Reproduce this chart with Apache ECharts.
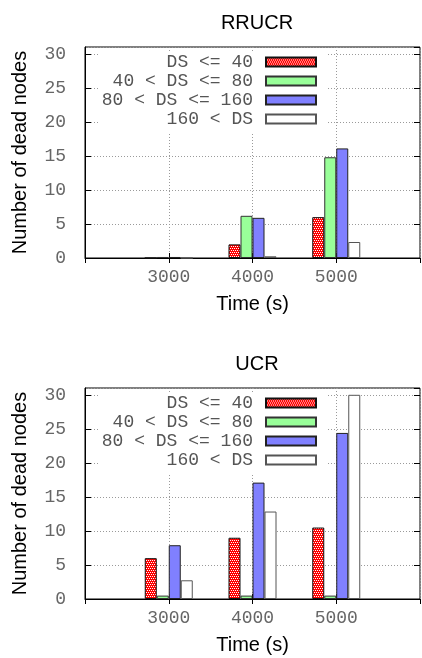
<!DOCTYPE html>
<html>
<head>
<meta charset="utf-8">
<script src="https://cdn.jsdelivr.net/npm/echarts@6/dist/echarts.min.js"></script>
<style>
html,body{margin:0;padding:0;background:#fff;}
#chart{width:422px;height:658px;}
</style>
</head>
<body>
<div id="chart"></div>
<script>
// ---- data ----
const titles = ['RRUCR', 'UCR'];
const seriesNames = ['DS <= 40', '40 < DS <= 80', '80 < DS <= 160', '160 < DS'];
const times = [3000, 4000, 5000];
const rrucrDS40 = [0, 2, 6];
const rrucrDS80 = [0.15, 6.2, 14.8];
const rrucrDS160 = [0.15, 5.9, 16.1];
const rrucrDSgt160 = [0, 0.25, 2.35];
const ucrDS40 = [6, 9, 10.5];
const ucrDS80 = [0.5, 0.5, 0.5];
const ucrDS160 = [7.9, 17.1, 24.4];
const ucrDSgt160 = [2.75, 12.85, 30];
const xAxisName = 'Time (s)';
const yAxisName = 'Number of dead nodes';

// ---- styles ----
const pc = document.createElement('canvas');
pc.width = 4; pc.height = 4;
const pctx = pc.getContext('2d');
pctx.fillStyle = '#ff0000'; pctx.fillRect(0, 0, 4, 4);
pctx.fillStyle = '#ffffff';
pctx.fillRect(0, 0, 1, 1); pctx.fillRect(2, 0, 1, 1);
pctx.fillRect(1, 2, 1, 1); pctx.fillRect(3, 2, 1, 1);

const barStyles = [
  {color: {image: pc, repeat: 'repeat'}, borderColor: '#111', borderWidth: 1},
  {color: '#99ff99', borderColor: '#333', borderWidth: 1},
  {color: '#8080ff', borderColor: '#222', borderWidth: 1},
  {color: '#ffffff', borderColor: '#555', borderWidth: 1}
];
const mono = 'Liberation Mono';
const sans = 'Liberation Sans';

const grids = [
  {left: 85, right: 2, top: 47, height: 211, show: true, borderColor: '#000', borderWidth: 1},
  {left: 85, right: 2, top: 388, height: 211, show: true, borderColor: '#000', borderWidth: 1}
];

const xAxes = [], yAxes = [], series = [], legends = [], titleOpts = [];
const datasets = [
  [rrucrDS40, rrucrDS80, rrucrDS160, rrucrDSgt160],
  [ucrDS40, ucrDS80, ucrDS160, ucrDSgt160]
];
const splitStyle = {show: true, lineStyle: {color: '#9a9a9a', type: [1, 2], width: 1}};
for (let g = 0; g < 2; g++) {
  xAxes.push({
    type: 'value', gridIndex: g, min: 2000, max: 6000, interval: 1000, position: 'bottom',
    axisLine: {show: true, lineStyle: {color: '#000'}},
    axisTick: {show: true, inside: true, length: 5, lineStyle: {color: '#000'}},
    axisLabel: {show: true, showMinLabel: false, showMaxLabel: false, margin: 10,
      formatter: v => String(v),
      fontFamily: mono, fontSize: 18, color: '#666'},
    splitLine: splitStyle,
    name: xAxisName, nameLocation: 'middle', nameGap: 36,
    nameTextStyle: {fontFamily: sans, fontSize: 20, color: '#000'}
  });
  xAxes.push({
    type: 'value', gridIndex: g, min: 2000, max: 6000, interval: 1000, position: 'top',
    axisLine: {show: false},
    axisTick: {show: true, inside: true, length: 5, lineStyle: {color: '#000'}},
    axisLabel: {show: false}, splitLine: {show: false}
  });
  yAxes.push({
    type: 'value', gridIndex: g, min: 0, max: 31, interval: 5, position: 'left',
    axisLine: {show: true, lineStyle: {color: '#000'}},
    axisTick: {show: true, inside: true, length: 6, lineStyle: {color: '#000'}},
    axisLabel: {show: true, showMaxLabel: false, margin: 19,
      fontFamily: mono, fontSize: 18, color: '#666'},
    splitLine: splitStyle,
    name: yAxisName, nameLocation: 'middle', nameGap: 55,
    nameTextStyle: {fontFamily: sans, fontSize: 20, color: '#000'}
  });
  yAxes.push({
    type: 'value', gridIndex: g, min: 0, max: 31, interval: 5, position: 'right',
    axisLine: {show: false},
    axisTick: {show: true, inside: true, length: 6, lineStyle: {color: '#000'}},
    axisLabel: {show: false}, splitLine: {show: false}
  });
  for (let s = 0; s < 4; s++) {
    series.push({
      type: 'bar', name: seriesNames[s],
      xAxisIndex: g * 2, yAxisIndex: g * 2,
      barWidth: 12, barGap: '0%',
      itemStyle: barStyles[s],
      emphasis: {disabled: true},
      data: times.map((t, i) => [t, datasets[g][s][i]])
    });
  }
  legends.push({
    data: seriesNames.slice(), orient: 'vertical', align: 'right',
    right: 94, top: grids[g].top + 6,
    itemWidth: 50, itemHeight: 9, itemGap: 1,
    icon: 'rect', backgroundColor: '#fff', padding: [0, 11, 6, 3],
    selectedMode: false,
    textStyle: {fontFamily: mono, fontSize: 18, color: '#555', padding: [0, 8, 0, 0]}
  });
  titleOpts.push({
    text: titles[g], left: 252, textAlign: 'center',
    top: g === 0 ? 8 : 349,
    textStyle: {fontFamily: sans, fontSize: 20, fontWeight: 'normal', color: '#000'}
  });
}

const chart = echarts.init(document.getElementById('chart'), null, {renderer: 'canvas'});
chart.setOption({
  animation: false,
  backgroundColor: '#fff',
  title: titleOpts,
  grid: grids,
  xAxis: xAxes,
  yAxis: yAxes,
  legend: legends,
  series: series
});
</script>
</body>
</html>
